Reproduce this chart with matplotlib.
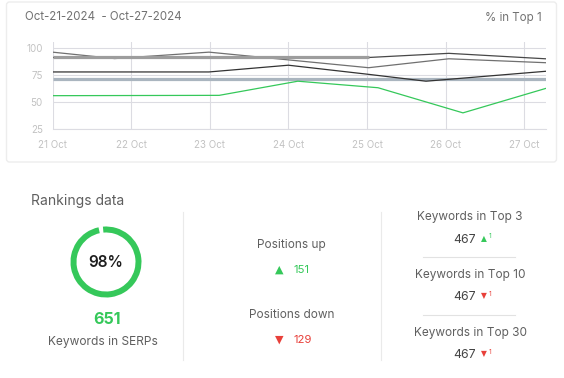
import matplotlib
matplotlib.use("Agg")
import matplotlib.pyplot as plt
import matplotlib.patches as mpatches

plt.rcParams['font.family'] = ['Inter', 'DejaVu Sans']

# ---- data ----
days = ["21 Oct", "22 Oct", "23 Oct", "24 Oct", "25 Oct", "26 Oct", "27 Oct"]
y_ticks = [25, 50, 75, 100]

# every series has its own sample positions (in days from 21 Oct)
green_x = [0, 2.12, 3.12, 4.14, 5.22, 6.27]
green_y = [55.9, 56.2, 69.2, 63.2, 40.1, 62.5]

grey_x = [0, 0.79, 1.99, 4.02, 5.04, 6.27]
grey_y = [95.9, 90.0, 95.9, 81.6, 89.8, 86.2]

top_x = [0, 4.02, 5.04, 6.27]
top_y = [91.0, 91.0, 94.8, 89.8]

band_x = [0, 4.02]
band_y = [91.0, 91.0]

steel_x = [0, 6.27]
steel_y = [71.0, 71.0]

dark_x = [0, 1.99, 3.0, 4.02, 4.75, 6.27]
dark_y = [77.7, 77.7, 83.9, 75.5, 69.2, 78.3]

serp_pct = 98
serp_count = 651
pos_up = 151
pos_down = 129
top_labels = ["Keywords in Top 3", "Keywords in Top 10", "Keywords in Top 30"]
top_values = [467, 467, 467]
top_change = [1, -1, -1]

GREEN = '#35c85a'
RED = '#e8403a'
TXT = '#5f5f5f'
W, H = 564, 378

fig = plt.figure(figsize=(W / 100, H / 100), dpi=100)

# overlay in pixel coordinates
bg = fig.add_axes([0, 0, 1, 1])
bg.set_xlim(0, W)
bg.set_ylim(H, 0)
bg.axis('off')

card = mpatches.FancyBboxPatch((6.5, 2), 550, 160, boxstyle="round,pad=0,rounding_size=3",
                               fc='white', ec='#ededed', lw=1)
bg.add_patch(card)
bg.text(25, 17.5, "Oct-21-2024  - Oct-27-2024", fontsize=8.3, color='#727272', va='center', ha='left')
bg.text(542, 17.5, "% in Top 1", fontsize=8.3, color='#727272', va='center', ha='right')

# ---- line chart ----
left, right, top, bottom = 52.5, 545.5, 41.7, 129.3
ax = fig.add_axes([left / W, 1 - bottom / H, (right - left) / W, (bottom - top) / H])
ax.set_facecolor('none')
ax.plot(steel_x, steel_y, color='#aab5bf', lw=2.3, solid_capstyle='butt', zorder=3)
ax.plot(grey_x, grey_y, color='#707070', lw=0.9, zorder=4)
ax.plot(top_x, top_y, color='#484848', lw=0.9, zorder=4)
ax.plot(band_x, band_y, color='#9d9d9d', lw=2.3, solid_capstyle='butt', zorder=5)
ax.plot(dark_x, dark_y, color='#333333', lw=0.9, zorder=4)
ax.plot(green_x, green_y, color=GREEN, lw=0.9, zorder=4)

ax.set_xlim(0, 6.27)
ax.set_ylim(25, 105.5)
ax.set_xticks(range(len(days)))
ax.set_xticklabels(days)
ax.set_yticks(y_ticks)
ax.tick_params(length=0, labelsize=7, labelcolor='#c2c2c2')
ax.tick_params(axis='x', pad=8)
ax.tick_params(axis='y', pad=7)
ax.grid(True, color='#dcdce2', lw=0.8, zorder=0)
for s in ['top', 'right', 'left']:
    ax.spines[s].set_visible(False)
ax.spines['bottom'].set_color('#dcdce2')
ax.spines['bottom'].set_linewidth(0.8)

# ---- rankings panel ----
bg.text(31, 200.5, "Rankings data", fontsize=10, color=TXT, va='center', ha='left')

r = 35.5
cx, cy = 106, 262
dax = fig.add_axes([(cx - r) / W, 1 - (cy + r) / H, 2 * r / W, 2 * r / H])
dax.pie([serp_pct, 100 - serp_pct], colors=[GREEN, 'none'], startangle=95, counterclock=False,
        wedgeprops=dict(width=6 / r, lw=0))
dax.set_xlim(-1, 1)
dax.set_ylim(-1, 1)
dax.set_aspect('auto')
bg.text(cx, cy + 0.5, f"{serp_pct}%", fontsize=11, color='#1e1e1e', va='center', ha='center',
        fontweight='semibold')
bg.text(107, 320, f"{serp_count}", fontsize=11.5, color=GREEN, va='center', ha='center', fontweight='bold')
bg.text(102.5, 342, "Keywords in SERPs", fontsize=8.6, color=TXT, va='center', ha='center')

for xs in [182.7, 381.3]:
    bg.plot([xs, xs], [212, 360], color='#eaeaea', lw=0.8)

bg.text(291.4, 245, "Positions up", fontsize=8.5, color=TXT, va='center', ha='center')
bg.text(279, 270, "▲", fontsize=8, color=GREEN, va='center', ha='center', family='DejaVu Sans')
bg.text(293, 270, f"{pos_up}", fontsize=8.2, color=GREEN, va='center', ha='left')
bg.text(291.4, 315, "Positions down", fontsize=8.5, color=TXT, va='center', ha='center')
bg.text(279, 340, "▼", fontsize=8, color=RED, va='center', ha='center', family='DejaVu Sans')
bg.text(293, 340, f"{pos_down}", fontsize=8.2, color=RED, va='center', ha='left')

label_y = [216.7, 275, 333.3]
value_y = [240, 297.3, 355]
for lab, val, ch, ly, vy in zip(top_labels, top_values, top_change, label_y, value_y):
    bg.text(470, ly, lab, fontsize=8.5, color=TXT, va='center', ha='center')
    bg.text(475.5, vy, f"{val}", fontsize=8.8, color='#444444', va='center', ha='right')
    mark = "▲" if ch > 0 else "▼"
    col = GREEN if ch > 0 else RED
    bg.text(484, vy - 1.5, mark, fontsize=5.5, color=col, va='center', ha='center', family='DejaVu Sans')
    bg.text(488.5, vy - 3.5, f"{abs(ch)}", fontsize=4.8, color=col, va='center', ha='left')
for sy in [256.7, 315]:
    bg.plot([422.7, 515], [sy, sy], color='#e2e2e2', lw=0.8)

fig.savefig("out.png", dpi=100)
